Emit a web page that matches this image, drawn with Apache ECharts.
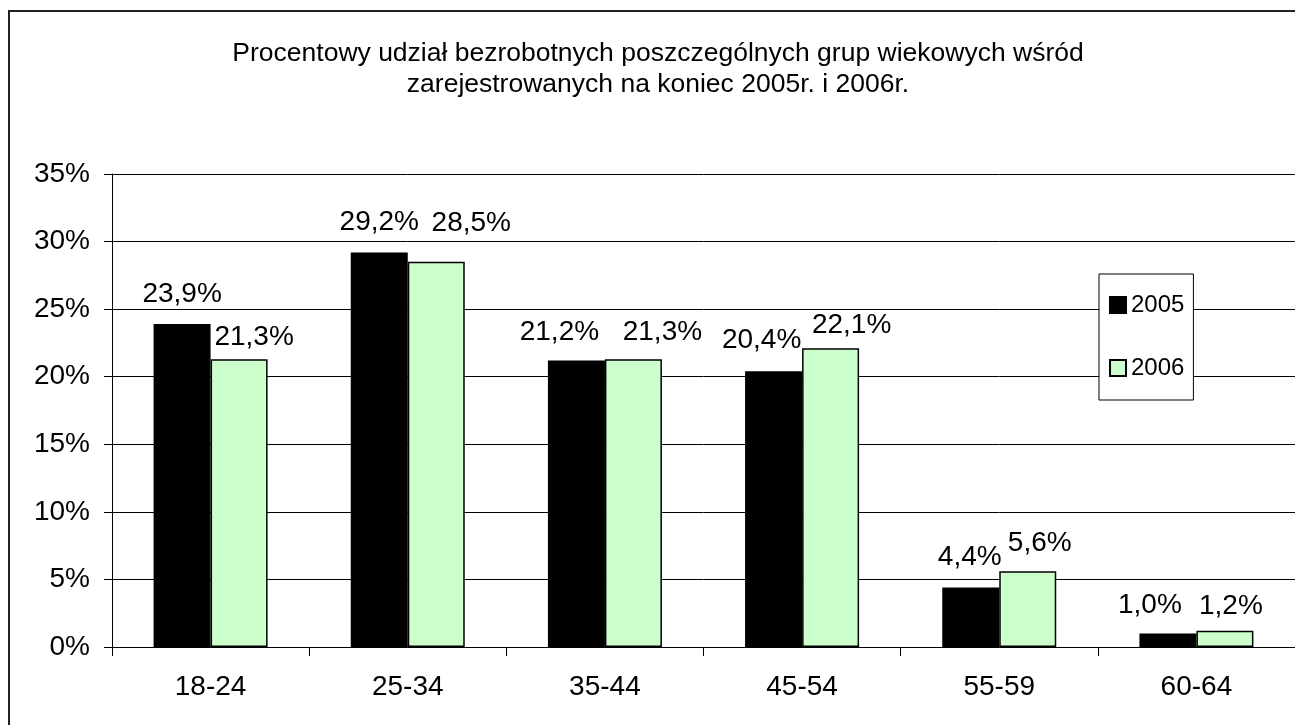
<!DOCTYPE html>
<html>
<head>
<meta charset="utf-8">
<script src="https://cdn.jsdelivr.net/npm/echarts@6/dist/echarts.min.js"></script>
<style>
html,body{margin:0;padding:0;background:#fff;}
#c{width:1295px;height:725px;}
</style>
</head>
<body>
<div id="c"></div>
<script>
var categories = ['18-24', '25-34', '35-44', '45-54', '55-59', '60-64'];
var v2005 = [23.9, 29.2, 21.2, 20.4, 4.4, 1.0];
var v2006 = [21.3, 28.5, 21.3, 22.1, 5.6, 1.2];
var seriesNames = ['2005', '2006'];
var yMin = 0, yMax = 35, yStep = 5;
var titleText = 'Procentowy udział bezrobotnych poszczególnych grup wiekowych wśród\nzarejestrowanych na koniec 2005r. i 2006r.';

// label layout nudges (Excel-style de-overlap), not data
var shift2005 = [[0, -2], [0, -2], [-17, 0], [-12, -3], [-1, -2], [-18, 0]];
var shift2006 = [[15, 6], [35, -11], [29, 1], [21, 5], [12, 0], [6, 3]];

var FONT = '"Liberation Sans", Arial, sans-serif';

function fmt(v) { return v.toFixed(1).replace('.', ',') + '%'; }

function buildData(vals, shifts) {
  return vals.map(function (v, i) {
    return { value: v, label: { offset: shifts[i] } };
  });
}

var labelCfg = {
  show: true,
  position: 'top',
  distance: 14,
  color: '#000',
  fontFamily: FONT,
  fontSize: 28,
  lineHeight: 28,
  formatter: function (p) { return fmt(p.value); }
};

var chart = echarts.init(document.getElementById('c'), null, { renderer: 'canvas' });
chart.setOption({
  backgroundColor: '#fff',
  animation: false,
  title: {
    text: titleText,
    left: 653,
    top: 33,
    textAlign: 'center',
    textStyle: { fontFamily: FONT, fontSize: 26.5, fontWeight: 'normal', color: '#000', lineHeight: 31 }
  },
  graphic: [{
    type: 'rect',
    shape: { x: 9, y: 11, width: 1400, height: 800 },
    style: { fill: 'none', stroke: '#222', lineWidth: 2 },
    silent: true,
    z: 100
  }],
  legend: {
    orient: 'vertical',
    left: 1099,
    top: 274,
    padding: [19, 9, 20, 10],
    itemGap: 39,
    itemWidth: 16,
    itemHeight: 16,
    icon: 'rect',
    backgroundColor: '#fff',
    borderColor: '#000',
    borderWidth: 1,
    textStyle: { fontFamily: FONT, fontSize: 24, color: '#000', lineHeight: 24 },
    data: seriesNames
  },
  grid: { left: 112, right: -3, top: 174, bottom: 78, containLabel: false },
  xAxis: {
    type: 'category',
    data: categories,
    axisLine: { lineStyle: { color: '#000', width: 1 } },
    axisTick: { show: true, length: 9, lineStyle: { color: '#000' } },
    axisLabel: { color: '#000', fontFamily: FONT, fontSize: 28, margin: 26 },
    splitLine: { show: false }
  },
  yAxis: {
    type: 'value',
    min: yMin,
    max: yMax,
    interval: yStep,
    axisLine: { show: true, lineStyle: { color: '#000', width: 1 } },
    axisTick: { show: true, length: 8, lineStyle: { color: '#000' } },
    axisLabel: { color: '#000', fontFamily: FONT, fontSize: 28, margin: 22, formatter: '{value}%' },
    splitLine: { show: true, lineStyle: { color: '#000', width: 1 } }
  },
  series: [{
    name: seriesNames[0],
    type: 'bar',
    data: buildData(v2005, shift2005),
    barWidth: 57,
    barGap: '0%',
    itemStyle: { color: '#000', borderColor: '#000', borderWidth: 1.5 },
    label: labelCfg
  }, {
    name: seriesNames[1],
    type: 'bar',
    data: buildData(v2006, shift2006),
    barWidth: 57,
    barGap: '0%',
    itemStyle: { color: '#CCFFCC', borderColor: '#000', borderWidth: 1.5 },
    label: labelCfg
  }]
});
</script>
</body>
</html>
